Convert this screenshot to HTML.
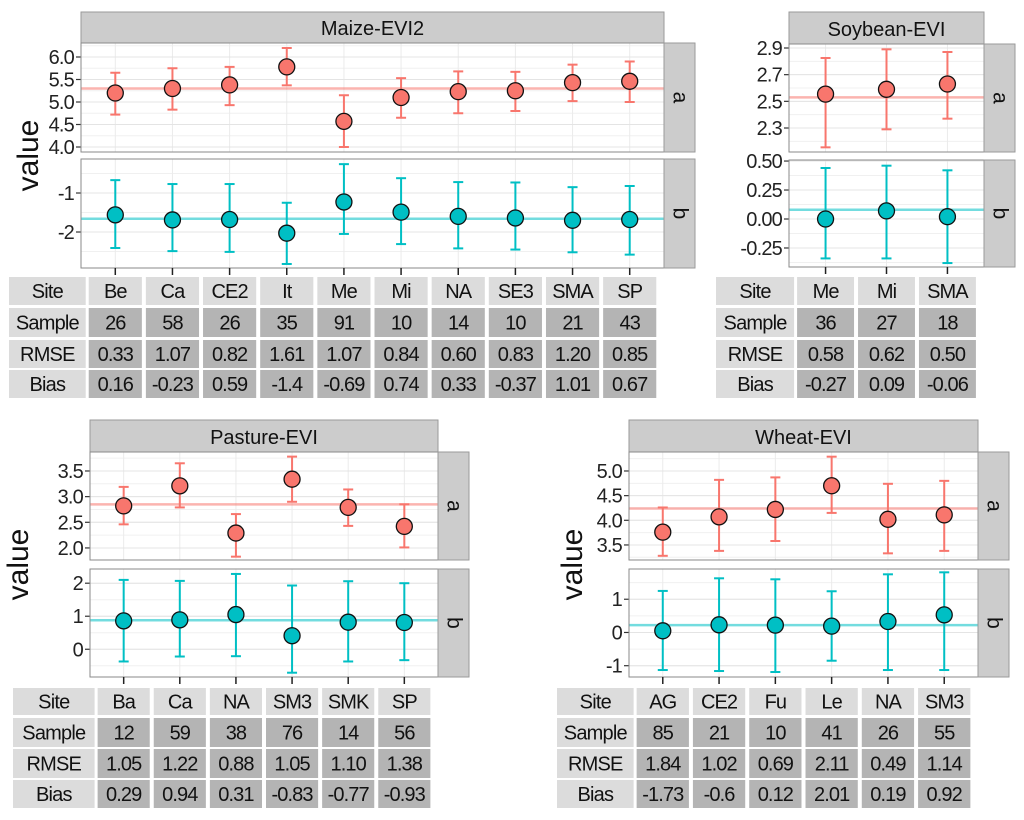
<!DOCTYPE html>
<html><head><meta charset="utf-8"><style>
html,body{margin:0;padding:0;background:#fff;}
svg{display:block;font-family:"Liberation Sans",sans-serif;}
</style></head><body>
<svg id="fig" width="1024" height="820" viewBox="0 0 1024 820"></svg>
<script>
// ---------- DATA ----------
const maizeSites=["Be","Ca","CE2","It","Me","Mi","NA","SE3","SMA","SP"];
const maizeA=[5.2,5.3,5.38,5.78,4.57,5.1,5.23,5.25,5.43,5.46];
const maizeAlo=[4.72,4.83,4.93,5.37,4.0,4.65,4.75,4.8,5.02,5.0];
const maizeAhi=[5.65,5.75,5.78,6.2,5.15,5.53,5.68,5.67,5.83,5.9];
const maizeAmean=5.3;
const maizeB=[-1.56,-1.69,-1.68,-2.03,-1.23,-1.49,-1.6,-1.64,-1.7,-1.68];
const maizeBlo=[-2.41,-2.49,-2.51,-2.82,-2.05,-2.31,-2.42,-2.45,-2.52,-2.58];
const maizeBhi=[-0.67,-0.77,-0.77,-1.25,-0.26,-0.62,-0.72,-0.73,-0.85,-0.82];
const maizeBmean=-1.66;
const maizeSample=["26","58","26","35","91","10","14","10","21","43"];
const maizeRMSE=["0.33","1.07","0.82","1.61","1.07","0.84","0.60","0.83","1.20","0.85"];
const maizeBias=["0.16","-0.23","0.59","-1.4","-0.69","0.74","0.33","-0.37","1.01","0.67"];
const maizeATicks=[4.0,4.5,5.0,5.5,6.0];
const maizeATickLabels=["4.0","4.5","5.0","5.5","6.0"];
const maizeBTicks=[-2,-1];
const maizeBTickLabels=["-2","-1"];

const soySites=["Me","Mi","SMA"];
const soyA=[2.554,2.59,2.63];
const soyAlo=[2.155,2.29,2.37];
const soyAhi=[2.825,2.89,2.87];
const soyAmean=2.53;
const soyB=[0.0,0.07,0.02];
const soyBlo=[-0.34,-0.34,-0.38];
const soyBhi=[0.44,0.46,0.42];
const soyBmean=0.08;
const soySample=["36","27","18"];
const soyRMSE=["0.58","0.62","0.50"];
const soyBias=["-0.27","0.09","-0.06"];
const soyATicks=[2.3,2.5,2.7,2.9];
const soyATickLabels=["2.3","2.5","2.7","2.9"];
const soyBTicks=[-0.25,0,0.25,0.5];
const soyBTickLabels=["-0.25","0.00","0.25","0.50"];

const pastSites=["Ba","Ca","NA","SM3","SMK","SP"];
const pastA=[2.82,3.21,2.29,3.34,2.79,2.42];
const pastAlo=[2.46,2.79,1.83,2.9,2.43,2.01];
const pastAhi=[3.19,3.65,2.66,3.78,3.14,2.85];
const pastAmean=2.85;
const pastB=[0.86,0.89,1.05,0.41,0.82,0.81];
const pastBlo=[-0.37,-0.22,-0.21,-0.71,-0.37,-0.33];
const pastBhi=[2.1,2.07,2.28,1.93,2.06,2.0];
const pastBmean=0.88;
const pastSample=["12","59","38","76","14","56"];
const pastRMSE=["1.05","1.22","0.88","1.05","1.10","1.38"];
const pastBias=["0.29","0.94","0.31","-0.83","-0.77","-0.93"];
const pastATicks=[2.0,2.5,3.0,3.5];
const pastATickLabels=["2.0","2.5","3.0","3.5"];
const pastBTicks=[0,1,2];
const pastBTickLabels=["0","1","2"];

const wheatSites=["AG","CE2","Fu","Le","NA","SM3"];
const wheatA=[3.76,4.07,4.22,4.70,4.02,4.11];
const wheatAlo=[3.28,3.38,3.58,4.15,3.33,3.38];
const wheatAhi=[4.26,4.82,4.87,5.29,4.74,4.8];
const wheatAmean=4.24;
const wheatB=[0.05,0.23,0.22,0.19,0.33,0.53];
const wheatBlo=[-1.13,-1.16,-1.19,-0.85,-1.13,-1.13];
const wheatBhi=[1.25,1.63,1.6,1.24,1.75,1.81];
const wheatBmean=0.22;
const wheatSample=["85","21","10","41","26","55"];
const wheatRMSE=["1.84","1.02","0.69","2.11","0.49","1.14"];
const wheatBias=["-1.73","-0.6","0.12","2.01","0.19","0.92"];
const wheatATicks=[3.5,4.0,4.5,5.0];
const wheatATickLabels=["3.5","4.0","4.5","5.0"];
const wheatBTicks=[-1,0,1];
const wheatBTickLabels=["-1","0","1"];

// ---------- DRAW ----------
const NS="http://www.w3.org/2000/svg";
const svg=document.getElementById("fig");
function mk(tag,attrs,parent,text){const e=document.createElementNS(NS,tag);for(const k in attrs)e.setAttribute(k,attrs[k]);if(text!==undefined)e.textContent=text;(parent||svg).appendChild(e);return e;}
const RED="#F8766D",CYAN="#00BFC4";

function drawFacet(key,title,sites,A,Alo,Ahi,Am,B,Blo,Bhi,Bm,aT,aTL,bT,bTL,sample,rmse,bias,L){
  const g=mk("g",{},svg);
  
  
  const n=sites.length, pitch=(L.right-L.left)/(n+0.2);
  const xOf=i=>L.left+(i+0.6)*pitch;
  const yA=v=>L.aTop+(L.aMax-v)/(L.aMax-L.aMin)*(L.aBot-L.aTop);
  const yB=v=>L.bTop+(L.bMax-v)/(L.bMax-L.bMin)*(L.bBot-L.bTop);
  const hs=mk("rect",{x:L.left,y:L.headTop,width:L.right-L.left,height:L.aTop-L.headTop,fill:"#cccccc",stroke:"#9a9a9a","stroke-width":1},g);
  
  
  const ht=mk("text",{x:(L.left+L.right)/2,y:L.aTop-8,"text-anchor":"middle","font-size":20,fill:"#111"},g,title);
  
  
  const panels=[["a",L.aTop,L.aBot,yA,aT,aTL,A,Alo,Ahi,Am,RED],["b",L.bTop,L.bBot,yB,bT,bTL,B,Blo,Bhi,Bm,CYAN]];
  panels.forEach(p=>{
    const [nm,top,bot,yf,ticks,tl,vals,lo,hi,mean,col]=p;
    const pg=mk("g",{},g);
    
    
    mk("rect",{x:L.left,y:top,width:L.right-L.left,height:bot-top,fill:"#fff"},pg);
    const step=ticks[1]-ticks[0];
    for(let t=ticks[0]-step*3;t<=ticks[ticks.length-1]+step*3;t+=step/2){const y=yf(t);if(y>top&&y<bot)mk("line",{x1:L.left,x2:L.right,y1:y,y2:y,stroke:"#f0f0f0","stroke-width":1},pg);}
    sites.forEach((s,i)=>mk("line",{x1:xOf(i),x2:xOf(i),y1:top,y2:bot,stroke:"#ebebeb","stroke-width":1},pg));
    ticks.forEach((t,i)=>{const y=yf(t);
      mk("line",{x1:L.left,x2:L.right,y1:y,y2:y,stroke:"#e4e4e4","stroke-width":1},pg);
      mk("line",{x1:L.left-5,x2:L.left,y1:y,y2:y,stroke:"#333","stroke-width":1.2},pg);
      const tx=mk("text",{x:L.left-7,y:y+7,"text-anchor":"end","font-size":20,fill:"#222","letter-spacing":-0.8},pg,tl[i]);
      
      
    });
    const hl=mk("line",{x1:L.left,x2:L.right,y1:yf(mean),y2:yf(mean),stroke:col,"stroke-width":2.5,"stroke-opacity":0.55},pg);
    
    
    vals.forEach((v,i)=>{const x=xOf(i);
      const eb=mk("g",{},pg);
      
      
      mk("line",{x1:x,x2:x,y1:yf(lo[i]),y2:yf(hi[i]),stroke:col,"stroke-width":2},eb);
      mk("line",{x1:x-5,x2:x+5,y1:yf(lo[i]),y2:yf(lo[i]),stroke:col,"stroke-width":2},eb);
      mk("line",{x1:x-5,x2:x+5,y1:yf(hi[i]),y2:yf(hi[i]),stroke:col,"stroke-width":2},eb);
      const c=mk("circle",{cx:x,cy:yf(v),r:8,fill:col,stroke:"#111","stroke-width":1.3},pg);
      
      
    });
    mk("rect",{x:L.left,y:top,width:L.right-L.left,height:bot-top,fill:"none",stroke:"#8a8a8a","stroke-width":1},pg);
    const sr=mk("rect",{x:L.right,y:top,width:L.stripR-L.right,height:bot-top,fill:"#cccccc",stroke:"#9a9a9a","stroke-width":1},pg);
    
    
    const cx=(L.right+L.stripR)/2, cy=(top+bot)/2;
    mk("text",{x:cx,y:cy,"text-anchor":"middle","font-size":21,fill:"#111",transform:`rotate(90 ${cx} ${cy})`,dy:6},pg,nm);
  });
  sites.forEach((s,i)=>mk("line",{x1:xOf(i),x2:xOf(i),y1:L.bBot,y2:L.bBot+7,stroke:"#222","stroke-width":1.5},g));
  const yt=mk("text",{x:L.ytX,y:(L.aTop+L.bBot)/2,"text-anchor":"middle","font-size":30,fill:"#111",transform:`rotate(-90 ${L.ytX} ${(L.aTop+L.bBot)/2})`},g,"value");
  
  
  const tb=mk("g",{},g);
  
  
  const rows=[["Site",sites],["Sample",sample],["RMSE",rmse],["Bias",bias]];
  const firstCellX=xOf(0)-pitch/2+2;
  rows.forEach((r,ri)=>{const [y0,y1]=L.rows[ri];
    mk("rect",{x:L.tabL,y:y0,width:firstCellX-3-L.tabL,height:y1-y0,fill:"#dcdcdc"},tb);
    mk("text",{x:(L.tabL+firstCellX-3)/2,y:(y0+y1)/2+7,"text-anchor":"middle","font-size":20,fill:"#111","letter-spacing":-0.8},tb,r[0]);
    r[1].forEach((v,i)=>{const x=xOf(i);
      mk("rect",{x:x-pitch/2+2,y:y0,width:pitch-4,height:y1-y0,fill:ri===0?"#dcdcdc":"#b4b4b4"},tb);
      const t=mk("text",{x:x,y:(y0+y1)/2+7,"text-anchor":"middle","font-size":20,fill:"#111","letter-spacing":-0.9},tb,v);
      
      
    });
  });
}
const stdRowsTop=[[277,305],[308,337],[340,368],[370,398]];
const stdRowsBot=[[688,715],[718,747],[749,778],[780,808]];
drawFacet("maize","Maize-EVI2",maizeSites,maizeA,maizeAlo,maizeAhi,maizeAmean,maizeB,maizeBlo,maizeBhi,maizeBmean,maizeATicks,maizeATickLabels,maizeBTicks,maizeBTickLabels,maizeSample,maizeRMSE,maizeBias,
 {left:81,right:664,stripR:695,headTop:12,aTop:43,aBot:152,bTop:159,bBot:268,aMin:3.889,aMax:6.311,bMin:-2.923,bMax:-0.128,ytX:38,tabL:9,rows:stdRowsTop});
drawFacet("soybean","Soybean-EVI",soySites,soyA,soyAlo,soyAhi,soyAmean,soyB,soyBlo,soyBhi,soyBmean,soyATicks,soyATickLabels,soyBTicks,soyBTickLabels,soySample,soyRMSE,soyBias,
 {left:789,right:984,stripR:1015,headTop:12,aTop:44,aBot:152,bTop:160,bBot:267,aMin:2.12,aMax:2.93,bMin:-0.414,bMax:0.509,ytX:-100,tabL:716,rows:stdRowsTop});
drawFacet("pasture","Pasture-EVI",pastSites,pastA,pastAlo,pastAhi,pastAmean,pastB,pastBlo,pastBhi,pastBmean,pastATicks,pastATickLabels,pastBTicks,pastBTickLabels,pastSample,pastRMSE,pastBias,
 {left:90,right:438,stripR:469,headTop:420,aTop:452,aBot:560,bTop:569,bBot:677,aMin:1.765,aMax:3.87,bMin:-0.84,bMax:2.43,ytX:28,tabL:13,rows:stdRowsBot});
drawFacet("wheat","Wheat-EVI",wheatSites,wheatA,wheatAlo,wheatAhi,wheatAmean,wheatB,wheatBlo,wheatBhi,wheatBmean,wheatATicks,wheatATickLabels,wheatBTicks,wheatBTickLabels,wheatSample,wheatRMSE,wheatBias,
 {left:629,right:978,stripR:1009,headTop:420,aTop:452,aBot:560,bTop:569,bBot:677,aMin:3.195,aMax:5.385,bMin:-1.34,bMax:1.91,ytX:582,tabL:557,rows:stdRowsBot});
</script>
</body></html>
